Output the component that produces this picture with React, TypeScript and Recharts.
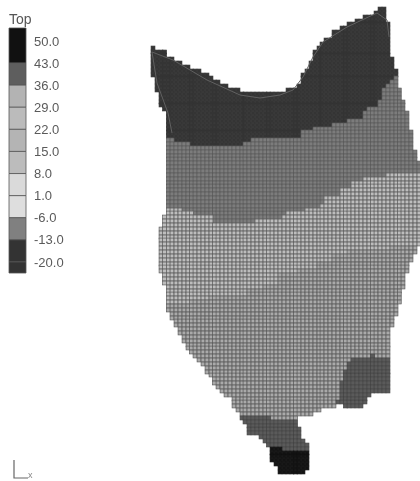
import { ReferenceArea, Scatter, ScatterChart, XAxis, YAxis } from 'recharts'

// legend
const legendTicks = [50, 43, 36, 29, 22, 15, 8, 1, -6, -13, -20]
const legendEdges = [54.1, 43, 36, 29, 22, 15, 8, 1, -6, -13, -20, -23.5]
const legendColors = ['#111111', '#5e5e5e', '#b3b3b3', '#bbbbbb', '#b4b4b4', '#bcbcbc', '#dadada', '#dedede', '#808080', '#333333', '#333333']

// mesh column centres
const colX = [
  153, 157, 161, 164.5, 168.3, 172, 176, 180, 184, 188,
  191.4, 195, 199, 203, 207, 211, 214.5, 218, 222, 226,
  230, 234, 238, 242, 245, 249, 253, 257, 261, 265,
  268.4, 272, 276, 280, 284, 288, 292, 295.5, 299, 303,
  307, 311, 315, 319, 322, 326, 330, 334, 338, 342,
  345.4, 349, 353, 357, 361, 365, 369, 372.4, 376, 380,
  384, 388, 392, 396, 399.3, 403, 407, 411, 415, 419,
]
const meshRows = [
  9, 13, 17, 21, 24, 28, 32, 36, 40, 44, 48, 52, 55, 59, 63, 67, 71, 75, 78, 82,
  86, 90, 94, 98, 102, 105, 109, 113, 117, 121, 125, 129, 132, 136, 140, 144, 148, 152, 156, 159,
  163, 167, 171, 175, 179, 183, 186, 190, 194, 198, 202, 206, 210, 213, 217, 221, 225, 229, 233, 237,
  240, 244, 248, 252, 256, 260, 264, 267, 271, 275, 279, 283, 287, 291, 294, 298, 302, 306, 310, 314,
  318, 321, 325, 329, 333, 337, 341, 345, 348, 352, 356, 360, 364, 368, 372, 375, 379, 383, 387, 391,
  395, 399, 402, 406, 410, 414, 418, 422, 426, 429, 433, 437, 441, 445, 449, 453, 456, 460, 464, 468, 472,
]
const colTop = [
  47, 50, 52, 52, 57, 57, 61, 61, 66, 66,
  68, 70, 70, 75, 75, 78, 80, 80, 85, 85,
  89, 89, 89, 94, 94, 94, 94, 94, 94, 94,
  94, 94, 94, 94, 92, 89, 89, 89, 85, 75,
  68, 62, 52, 47, 42, 37, 37, 32, 32, 28,
  25, 23, 23, 19, 19, 14, 14, 14, 11, 9,
  9, 23, 57, 71, 88, 100, 113, 132, 150, 162,
]
const colBottom = [
  75, 90, 273, 285, 310, 320, 325, 335, 343, 350,
  355, 358, 362, 366, 372, 378, 384, 388, 392, 396,
  398, 406, 412, 418, 425, 433, 436, 436, 439, 444,
  447, 463, 467, 472, 473, 473, 473, 473, 475, 475,
  471, 414, 412, 410, 409, 407, 407, 406, 402, 402,
  406, 406, 406, 406, 406, 402, 398, 394, 392, 392,
  392, 392, 327, 317, 303, 287, 272, 262, 254, 246,
]
const darkEnd = [
  137, 137, 137, 137, 137, 137, 142, 142, 142, 142,
  147, 147, 147, 147, 147, 147, 147, 147, 147, 147,
  147, 147, 147, 145, 142, 142, 137, 137, 137, 137,
  137, 137, 137, 137, 137, 137, 137, 137, 137, 132,
  132, 132, 128, 128, 128, 128, 128, 123, 123, 123,
  123, 118, 118, 118, 118, 113, 108, 108, 108, 100,
  90, 85, 80, 76, 0, 0, 0, 0, 0, 0,
]
const midEnd = [
  208, 208, 208, 208, 208, 208, 208, 208, 212, 212,
  212, 217, 217, 217, 217, 217, 222, 222, 222, 222,
  222, 222, 222, 222, 222, 222, 222, 218, 218, 218,
  218, 218, 218, 218, 217, 212, 212, 212, 212, 212,
  207, 207, 207, 207, 203, 198, 198, 198, 198, 188,
  188, 188, 183, 183, 183, 179, 179, 179, 179, 179,
  179, 174, 174, 174, 174, 174, 174, 174, 174, 174,
]
const lightEnd = [
  303, 303, 303, 303, 303, 303, 303, 303, 303, 303,
  300, 300, 300, 300, 300, 298, 298, 298, 298, 298,
  298, 295, 295, 295, 295, 290, 290, 290, 290, 284,
  284, 284, 284, 274, 274, 274, 274, 274, 268, 268,
  268, 268, 268, 263, 263, 263, 263, 256, 256, 256,
  256, 251, 251, 251, 251, 251, 249, 249, 249, 249,
  249, 249, 247, 247, 247, 247, 247, 247, 247, 247,
]
// lower right lobe and the tail
const lowTop = [
  999, 999, 999, 999, 999, 999, 999, 999, 999, 999,
  999, 999, 999, 999, 999, 999, 999, 999, 999, 999,
  999, 999, 999, 417, 417, 417, 417, 417, 417, 417,
  417, 420, 420, 420, 420, 420, 420, 420, 420, 420,
  420, 999, 999, 999, 999, 999, 999, 999, 400, 380,
  370, 364, 360, 358, 358, 358, 358, 353, 358, 358,
  358, 358, 999, 999, 999, 999, 999, 999, 999, 999,
]
const blackCols = [31, 32, 33, 34, 35, 36, 37, 38, 39, 40]
const blackTop = [448, 448, 448, 453, 453, 453, 453, 453, 453, 453]
// columns that are cut by the outline between two spans
const gapCols = [2, 3, 38, 39, 40]
const gapFrom = [108, 110, 416, 415, 414]
const gapTo = [228, 217, 428, 438, 445]

const outlineX = [389, 387, 377, 347, 323, 313, 303, 293, 280, 260, 240, 207, 173, 152, 157, 168, 172]
const outlineY = [37, 20, 13, 27, 42, 57, 77, 90, 95, 98, 95, 80, 60, 52, 83, 113, 133]
const triadX = [14, 14, 28]
const triadY = [460, 478, 478]

const bandColors = ['#343434', '#7c7c7c', '#bdbdbd', '#aaaaaa', '#5a5a5a', '#131313']
const bandStrokes = ['#333333', '#5a5a5a', '#5f5f5f', '#5c5c5c', '#444444', '#111111']

type Cell = { x: number; y: number }
const bandCells: Cell[][] = bandColors.map(() => [])

colX.forEach((x, c) => {
  const g = gapCols.indexOf(c)
  const b = blackCols.indexOf(c)
  meshRows.forEach((y) => {
    if (y < colTop[c] || y > colBottom[c]) return
    if (g >= 0 && y > gapFrom[g] && y < gapTo[g]) return
    let band = 3
    if (b >= 0 && y >= blackTop[b]) band = 5
    else if (y >= lowTop[c]) band = 4
    else if (y < darkEnd[c]) band = 0
    else if (y < midEnd[c]) band = 1
    else if (y < lightEnd[c]) band = 2
    bandCells[band].push({ x, y })
  })
})

const MeshCell = (props: any) => {
  const { cx, cy, fill, edge } = props
  return <rect x={cx - 1.92} y={cy - 1.92} width={3.85} height={3.85} fill={fill} stroke={edge} strokeWidth={0.7} />
}

const font = '"Liberation Sans", Arial, sans-serif'

export default function App() {
  return (
    <div style={{ position: 'fixed', left: 0, top: 0, width: 420, height: 481, background: '#fff', overflow: 'hidden', filter: 'blur(0.5px)' }}>
      <ScatterChart width={420} height={481} margin={{ top: 0, right: 0, bottom: 0, left: 0 }} style={{ position: 'absolute', left: 0, top: 0 }}>
        <XAxis type="number" dataKey="x" domain={[0, 420]} hide />
        <YAxis type="number" dataKey="y" domain={[0, 481]} reversed hide />
        {bandColors.map((color, i) => (
          <Scatter
            key={color}
            data={bandCells[i]}
            fill={color}
            shape={(p: any) => <MeshCell {...p} edge={bandStrokes[i]} />}
            isAnimationActive={false}
          />
        ))}
        <Scatter
          data={outlineX.map((x, i) => ({ x, y: outlineY[i] }))}
          line={{ stroke: '#606060', strokeWidth: 1 }}
          shape={() => null}
          isAnimationActive={false}
        />
        <Scatter
          data={triadX.map((x, i) => ({ x, y: triadY[i] }))}
          line={{ stroke: '#666', strokeWidth: 1.2 }}
          shape={() => null}
          isAnimationActive={false}
        />
      </ScatterChart>

      <ScatterChart
        width={80}
        height={481}
        margin={{ top: 28, right: 0, bottom: 208, left: 9 }}
        style={{ position: 'absolute', left: 0, top: 0 }}
      >
        <XAxis type="number" dataKey="x" domain={[0, 1]} hide />
        <YAxis
          type="number"
          dataKey="v"
          orientation="right"
          domain={[-23.5, 54.1]}
          ticks={legendTicks}
          interval={0}
          width={54}
          axisLine={false}
          tickLine={false}
          tickMargin={2}
          tick={{ fill: '#5a5a5a', fontSize: 13, fontFamily: font, textAnchor: 'start' }}
          tickFormatter={(v: number) => v.toFixed(1)}
        />
        {legendColors.map((color, i) => (
          <ReferenceArea key={i} x1={0} x2={1} y1={legendEdges[i + 1]} y2={legendEdges[i]} fill={color} fillOpacity={1} stroke="#555" strokeWidth={0.8} />
        ))}
        <Scatter data={legendTicks.map((v) => ({ x: 0.5, v }))} shape={() => null} isAnimationActive={false} />
      </ScatterChart>

      <div style={{ position: 'absolute', left: 9, top: 11, fontFamily: font, fontSize: 14, color: '#555' }}>Top</div>
      <div style={{ position: 'absolute', left: 28, top: 470, fontFamily: font, fontSize: 9, color: '#888' }}>x</div>
    </div>
  )
}
